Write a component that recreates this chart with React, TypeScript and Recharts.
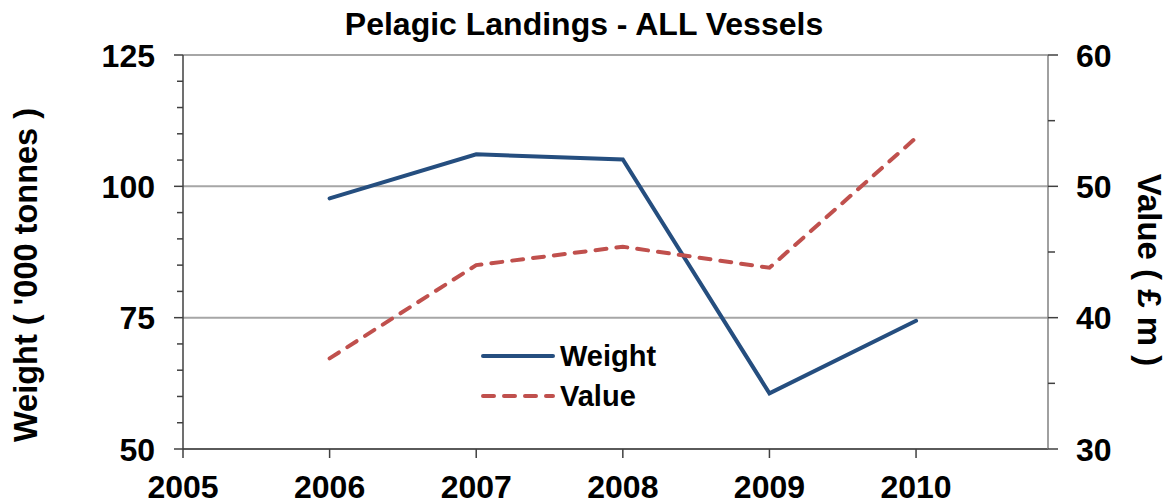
import React from "react"
import { CartesianGrid, Legend, Line, LineChart, XAxis, YAxis } from "recharts"

const years = [2006, 2007, 2008, 2009, 2010]
const weightValues = [97.7, 106.1, 105.1, 60.6, 74.4]
const valueValues = [36.9, 44.0, 45.4, 43.8, 53.7]

const xTicks = [2005, 2006, 2007, 2008, 2009, 2010]
const leftTicks = [50, 55, 60, 65, 70, 75, 80, 85, 90, 95, 100, 105, 110, 115, 120, 125]
const leftMajor = [50, 75, 100, 125]
const rightTicks = [30, 35, 40, 45, 50, 55, 60]
const rightMajor = [30, 40, 50, 60]
const legendOrder = ["Weight", "Value"]

const data = years.map((year, i) => ({ year, weight: weightValues[i], value: valueValues[i] }))

const FONT = "'Liberation Sans', Arial, sans-serif"
const BLUE = "#254E7F"
const RED = "#C0504D"

const LeftTick = ({ x, y, payload }: any) => {
  const major = leftMajor.includes(payload.value)
  return (
    <g>
      <line x1={x - (major ? 9 : 6)} y1={y} x2={x} y2={y} stroke="#404040" strokeWidth={1.5} />
      {major && (
        <text x={x - 28} y={y + 11.5} textAnchor="end" fontFamily={FONT} fontWeight="bold" fontSize={32} fill="#000">
          {payload.value}
        </text>
      )}
    </g>
  )
}

const RightTick = ({ x, y, payload }: any) => {
  const major = rightMajor.includes(payload.value)
  return (
    <g>
      <line x1={x} y1={y} x2={x + (major ? 10 : 7)} y2={y} stroke="#404040" strokeWidth={1.5} />
      {major && (
        <text x={x + 28} y={y + 11.5} textAnchor="start" fontFamily={FONT} fontWeight="bold" fontSize={32} fill="#000">
          {payload.value}
        </text>
      )}
    </g>
  )
}

const BottomTick = ({ x, y, payload }: any) => (
  <g>
    <line x1={x} y1={y} x2={x} y2={y + 9} stroke="#404040" strokeWidth={1.5} />
    <text x={x} y={y + 49} textAnchor="middle" fontFamily={FONT} fontWeight="bold" fontSize={32} fill="#000">
      {payload.value}
    </text>
  </g>
)

const LegendContent = ({ payload }: any) => {
  const items = [...(payload || [])].sort(
    (a: any, b: any) => legendOrder.indexOf(a.value) - legendOrder.indexOf(b.value)
  )
  return (
    <div style={{ fontFamily: FONT, fontWeight: "bold", fontSize: 29, color: "#000" }}>
      {items.map((entry: any) => (
        <div key={entry.value} style={{ display: "flex", alignItems: "center", height: 40 }}>
          <svg width={79} height={10}>
            <line
              x1={2}
              y1={5}
              x2={72}
              y2={5}
              stroke={entry.color}
              strokeWidth={4}
              strokeLinecap="round"
              strokeDasharray={entry.payload?.strokeDasharray}
            />
          </svg>
          <span>{entry.value}</span>
        </div>
      ))}
    </div>
  )
}

export default function App() {
  return (
    <div style={{ position: "absolute", left: 0, top: 0, width: 1171, height: 503, background: "#fff" }}>
      <LineChart width={1171} height={503} data={data} margin={{ top: 55, right: 23, bottom: 4, left: 83 }}>
        <CartesianGrid
          yAxisId="left"
          vertical={false}
          horizontalValues={leftMajor}
          stroke="#a6a6a6"
          strokeWidth={2}
        />
        <XAxis
          dataKey="year"
          type="number"
          domain={[2005, 2010.9]}
          ticks={xTicks}
          interval={0}
          height={50}
          tickSize={0}
          tickMargin={0}
          tick={<BottomTick />}
          axisLine={{ stroke: "#404040", strokeWidth: 1.5 }}
          tickLine={false}
        />
        <YAxis
          yAxisId="left"
          orientation="left"
          domain={[50, 125]}
          ticks={leftTicks}
          interval={0}
          width={100}
          tickSize={0}
          tickMargin={0}
          tick={<LeftTick />}
          axisLine={{ stroke: "#404040", strokeWidth: 1.5 }}
          tickLine={false}
        />
        <YAxis
          yAxisId="right"
          orientation="right"
          domain={[30, 60]}
          ticks={rightTicks}
          interval={0}
          width={100}
          tickSize={0}
          tickMargin={0}
          tick={<RightTick />}
          axisLine={{ stroke: "#808080", strokeWidth: 1.5 }}
          tickLine={false}
        />
        <Legend
          layout="vertical"
          align="center"
          verticalAlign="middle"
          content={<LegendContent />}
          wrapperStyle={{ left: 481, top: 336, width: 200, height: 80 }}
        />
        <Line
          yAxisId="left"
          dataKey="weight"
          name="Weight"
          type="linear"
          stroke={BLUE}
          strokeWidth={4}
          strokeLinecap="round"
          dot={false}
          isAnimationActive={false}
        />
        <Line
          yAxisId="right"
          dataKey="value"
          name="Value"
          type="linear"
          stroke={RED}
          strokeWidth={4}
          strokeLinecap="round"
          strokeDasharray="11 10"
          dot={false}
          isAnimationActive={false}
        />
      </LineChart>
      <svg width={1171} height={503} style={{ position: "absolute", left: 0, top: 0, pointerEvents: "none" }}>
        <text x={584} y={35} textAnchor="middle" fontFamily={FONT} fontWeight="bold" fontSize={32} fill="#000">
          Pelagic Landings - ALL Vessels
        </text>
        <text
          x={37}
          y={275}
          transform="rotate(-90 37 275)"
          textAnchor="middle"
          fontFamily={FONT}
          fontWeight="bold"
          fontSize={32.5}
          fill="#000"
        >
          Weight ( '000 tonnes )
        </text>
        <text
          x={1138}
          y={270}
          transform="rotate(90 1138 270)"
          textAnchor="middle"
          fontFamily={FONT}
          fontWeight="bold"
          fontSize={33}
          fill="#000"
        >
          Value ( £ m )
        </text>
      </svg>
    </div>
  )
}
